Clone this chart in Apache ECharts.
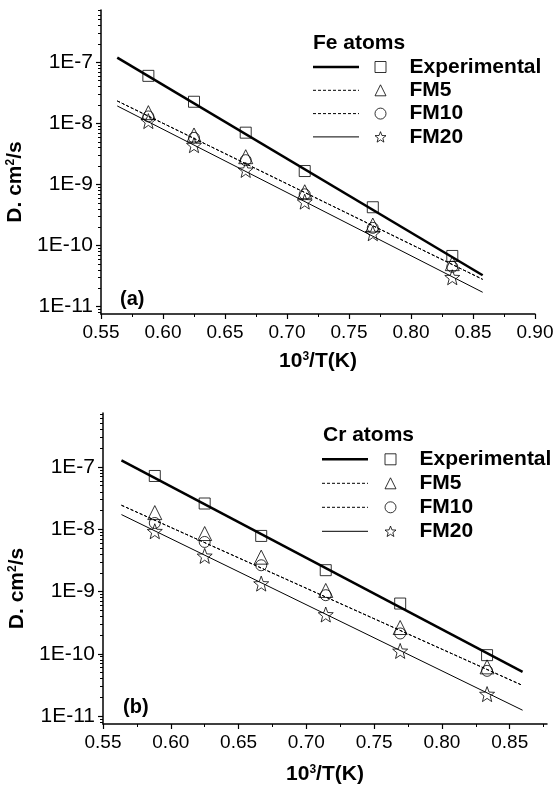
<!DOCTYPE html>
<html>
<head>
<meta charset="utf-8">
<script src="https://cdn.jsdelivr.net/npm/echarts@6/dist/echarts.min.js"></script>
<style>
html, body { margin: 0; padding: 0; background: #fff; }
#chart { width: 556px; height: 787px; }
</style>
</head>
<body>
<div id="chart"></div>
<script>
// 10^3/T for T = 1700 ... 1200 K
const invT = [0.5882, 0.6250, 0.6667, 0.7143, 0.7692, 0.8333];

// (a) Fe atoms, D in cm2/s
const feExperimental = [6.0e-8, 2.26e-8, 7.05e-9, 1.66e-9, 4.24e-10, 6.76e-11];
const feFM5 = [1.5e-8, 6.46e-9, 2.85e-9, 7.6e-10, 2.17e-10, 5.06e-11];
const feFM10 = [1.3e-8, 5.8e-9, 2.5e-9, 6.9e-10, 1.95e-10, 4.5e-11];
const feFM20 = [1.09e-8, 4.4e-9, 1.73e-9, 5.24e-10, 1.59e-10, 3.03e-11];

// (b) Cr atoms
const crExperimental = [7.17e-8, 2.59e-8, 7.81e-9, 2.2e-9, 6.41e-10, 9.5e-11];
const crFM5 = [1.85e-8, 8.53e-9, 3.56e-9, 1.04e-9, 2.64e-10, 6.16e-11];
const crFM10 = [1.26e-8, 6.25e-9, 2.64e-9, 8.73e-10, 2.12e-10, 5.32e-11];
const crFM20 = [9.29e-9, 3.73e-9, 1.34e-9, 4.27e-10, 1.11e-10, 2.25e-11];

// fitted lines, end points
const feFitX = [0.5631, 0.8578];
const feFitExperimental = [1.19e-7, 3.27e-11];
const feFitFM5 = [2.33e-8, 2.8e-11];
const feFitFM10 = [2.33e-8, 2.8e-11];
const feFitFM20 = [1.93e-8, 1.72e-11];

const crFitX = [0.5636, 0.8595];
const crFitExperimental = [1.28e-7, 5.13e-11];
const crFitFM5 = [2.43e-8, 3.1e-11];
const crFitFM10 = [2.43e-8, 3.1e-11];
const crFitFM20 = [1.72e-8, 1.24e-11];

const xTicks = [0.55, 0.60, 0.65, 0.70, 0.75, 0.80, 0.85, 0.90];
const xMinorTicks = [0.575, 0.625, 0.675, 0.725, 0.775, 0.825, 0.875];
const yDecades = [-11, -10, -9, -8, -7];   // exponents of the labelled ticks
const yMinorMultipliers = [2, 3, 4, 5, 6, 7, 8, 9];

const seriesNames = ['Experimental', 'FM5', 'FM10', 'FM20'];

const FONT = '"Liberation Sans", Arial, sans-serif';
const STAR = 'path://M0,-10L2.5,-3.4L9.51,-3.09L4,1.3L5.88,8.09L0,4.2L-5.88,8.09L-4,1.3L-9.51,-3.09L-2.5,-3.4Z';
const SYMBOLS = ['rect', 'triangle', 'circle', STAR];
const SYMBOL_SIZES = [11, 14, 11, 15];
const FIT_STYLES = [
  { width: 2.5, type: 'solid' },
  { width: 1, type: [3, 2] },
  { width: 1, type: [3, 2] },
  { width: 1, type: 'solid' }
];

const log10 = v => Math.log10(v);

function yAxesFor(gridIndex, min, max) {
  const minors = [];
  for (let n = -12; n <= -7; n++) {
    yMinorMultipliers.forEach(k => {
      const v = n + log10(k);
      if (v > min && v < max) minors.push(v);
    });
  }
  return [
    {
      type: 'value', gridIndex, min, max, position: 'left',
      name: '{b|D. cm}{sup|2}{b|/s}', nameLocation: 'middle', nameGap: 62, nameRotate: 90,
      nameTextStyle: {
        color: '#000', padding: [0, 40, 0, 0],
        rich: {
          b: { fontSize: 21, fontWeight: 'bold', fontFamily: FONT, color: '#000' },
          sup: { fontSize: 12, fontWeight: 'bold', fontFamily: FONT, color: '#000', verticalAlign: 'top' }
        }
      },
      axisLine: { show: true, onZero: false, lineStyle: { color: '#000', width: 1.5 } },
      axisTick: { show: true, length: 5, customValues: yDecades, lineStyle: { color: '#000', width: 1.2 } },
      axisLabel: { customValues: yDecades, formatter: v => '1E' + Math.round(v), color: '#000', fontSize: 21, fontFamily: FONT, margin: 8 },
      splitLine: { show: false }
    },
    {
      type: 'value', gridIndex, min, max, position: 'left',
      axisLine: { show: false },
      axisTick: { show: true, length: 3, customValues: minors, lineStyle: { color: '#000', width: 1 } },
      axisLabel: { show: false },
      splitLine: { show: false }
    }
  ];
}

function xAxesFor(gridIndex, min, max, nameGap) {
  const majors = xTicks.filter(v => v >= min - 1e-9 && v <= max + 1e-9);
  const minors = xMinorTicks.filter(v => v > min && v < max + 1e-9);
  return [
    {
      type: 'value', gridIndex, min, max, position: 'bottom',
      name: '{b|10}{sup|3}{b|/T(K)}', nameLocation: 'middle', nameGap,
      nameTextStyle: {
        color: '#000',
        rich: {
          b: { fontSize: 21, fontWeight: 'bold', fontFamily: FONT, color: '#000' },
          sup: { fontSize: 12, fontWeight: 'bold', fontFamily: FONT, color: '#000', verticalAlign: 'top' }
        }
      },
      axisLine: { show: true, onZero: false, lineStyle: { color: '#000', width: 1.5 } },
      axisTick: { show: true, length: 5, customValues: majors, lineStyle: { color: '#000', width: 1.2 } },
      axisLabel: { customValues: majors, formatter: v => v.toFixed(2), color: '#000', fontSize: 19, fontFamily: FONT, margin: 9 },
      splitLine: { show: false }
    },
    {
      type: 'value', gridIndex, min, max, position: 'bottom',
      axisLine: { show: false, onZero: false },
      axisTick: { show: true, length: 3, customValues: minors, lineStyle: { color: '#000', width: 1 } },
      axisLabel: { show: false },
      splitLine: { show: false }
    }
  ];
}

function panelSeries(axisBase, points, fitX, fits) {
  const out = [];
  fits.forEach((fit, i) => {
    out.push({
      name: seriesNames[i] + ' fit', type: 'line',
      xAxisIndex: axisBase, yAxisIndex: axisBase,
      data: fitX.map((x, j) => [x, log10(fit[j])]),
      symbol: 'none', silent: true, z: 2,
      lineStyle: { color: '#000', width: FIT_STYLES[i].width, type: FIT_STYLES[i].type }
    });
  });
  points.forEach((vals, i) => {
    out.push({
      name: seriesNames[i], type: 'scatter',
      xAxisIndex: axisBase, yAxisIndex: axisBase,
      data: invT.map((x, j) => [x, log10(vals[j])]),
      symbol: SYMBOLS[i], symbolSize: SYMBOL_SIZES[i], z: 3,
      itemStyle: { color: 'rgba(0,0,0,0)', borderColor: '#000', borderWidth: 1 }
    });
  });
  return out;
}

function legendFor(left, top, rowH, gap) {
  return {
    data: seriesNames, orient: 'vertical', left, top, padding: 0,
    itemWidth: 11, itemHeight: 11, itemGap: gap, selectedMode: false,
    itemStyle: { borderWidth: 1, borderColor: '#000', color: 'rgba(0,0,0,0)' },
    textStyle: { fontSize: 21, fontWeight: 'bold', fontFamily: FONT, color: '#000', lineHeight: rowH, padding: [0, 0, 0, 18.5] }
  };
}

function legendLines(x1, x2, y0, step) {
  return FIT_STYLES.map((s, i) => ({
    type: 'line', silent: true,
    shape: { x1, y1: y0 + i * step, x2, y2: y0 + i * step },
    style: { stroke: '#000', lineWidth: s.width, lineDash: s.type === 'solid' ? null : s.type }
  }));
}

const chart = echarts.init(document.getElementById('chart'), null, { renderer: 'canvas' });
chart.setOption({
  backgroundColor: '#fff',
  animation: false,
  textStyle: { fontFamily: FONT },
  title: [
    { text: 'Fe atoms', left: 313, top: 33, padding: 0, textStyle: { fontSize: 21, fontWeight: 'bold', color: '#000', fontFamily: FONT } },
    { text: '(a)', left: 120, top: 289, padding: 0, textStyle: { fontSize: 20, fontWeight: 'bold', color: '#000', fontFamily: FONT } },
    { text: 'Cr atoms', left: 323, top: 425, padding: 0, textStyle: { fontSize: 21, fontWeight: 'bold', color: '#000', fontFamily: FONT } },
    { text: '(b)', left: 123, top: 697, padding: 0, textStyle: { fontSize: 20, fontWeight: 'bold', color: '#000', fontFamily: FONT } }
  ],
  legend: [
    legendFor(374.5, 55.5, 23, 0.3),
    legendFor(384.5, 447.3, 24, 0)
  ],
  graphic: [
    ...legendLines(313, 359, 67, 23.3),
    ...legendLines(322, 368, 459.3, 24)
  ],
  grid: [
    { left: 101, top: 10, width: 434, height: 304, outerBoundsMode: 'none' },
    { left: 103, top: 413, width: 444, height: 311, outerBoundsMode: 'none' }
  ],
  xAxis: [...xAxesFor(0, 0.55, 0.90, 37), ...xAxesFor(1, 0.55, 0.8775, 40)],
  yAxis: [...yAxesFor(0, -11.12, -6.144), ...yAxesFor(1, -11.128, -6.133)],
  series: [
    ...panelSeries(0, [feExperimental, feFM5, feFM10, feFM20], feFitX,
      [feFitExperimental, feFitFM5, feFitFM10, feFitFM20]),
    ...panelSeries(2, [crExperimental, crFM5, crFM10, crFM20], crFitX,
      [crFitExperimental, crFitFM5, crFitFM10, crFitFM20])
  ]
});
</script>
</body>
</html>
